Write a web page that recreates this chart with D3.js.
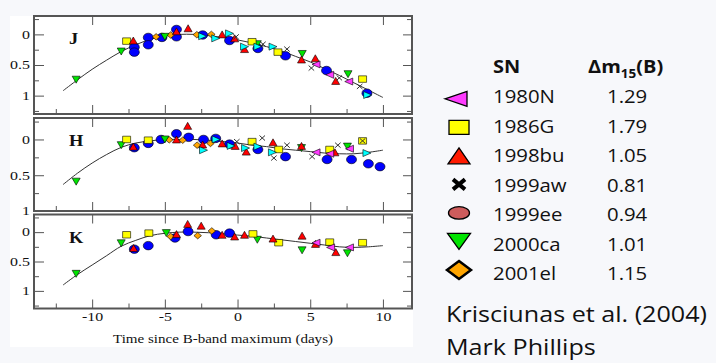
<!DOCTYPE html>
<html>
<head>
<meta charset="utf-8">
<script src="https://cdn.jsdelivr.net/npm/d3@7"></script>
<style>
  body { margin: 0; background: #f7f8fb; }
  svg { display: block; }
</style>
</head>
<body>
<div id="chart"></div>
<script>
const WIDTH = 716;
const HEIGHT = 363;

// photometry: [days since B max, mag relative to peak]
const sn1980N = {
    J: [[5.4, 0.49], [6.34, 0.66], [7.65, 0.77]],
    H: [[5.4, 0.18], [6.34, 0.2], [7.7, 0.13]],
    K: [[5.4, 0.18], [6.4, 0.26], [7.7, 0.26]]
};
const sn1986G = {
    J: [[-7.63, 0.11], [1.0, 0.12], [2.78, 0.29], [8.6, 0.73]],
    H: [[-7.63, 0.0], [-6.14, 0.01], [1.0, 0.03], [2.83, 0.14], [6.34, 0.14], [8.6, 0.02]],
    K: [[-7.63, 0.045], [-6.1, 0.017], [1.06, 0.03], [2.83, 0.18], [6.34, 0.17], [8.6, 0.18]]
};
const sn1998bu = {
    J: [[-7.17, 0.1], [-4.2, -0.05], [-3.4, -0.1], [-1.06, 0.0], [-0.2, 0.065], [0.48, 0.24],
        [4.4, 0.41], [5.35, 0.39], [6.75, 0.76]],
    H: [[-7.17, 0.1], [-4.2, 0.0], [-3.43, -0.19], [-2.4, 0.07], [-1.06, 0.055], [-0.16, 0.09],
        [0.6, 0.17], [2.44, 0.04], [4.4, 0.09], [6.7, 0.18]],
    K: [[-7.15, 0.27], [-4.2, 0.034], [-3.43, -0.14], [-2.5, -0.11], [-1.06, 0.045], [-0.2, 0.074],
        [0.48, 0.045], [2.44, 0.11], [4.44, 0.06], [5.36, 0.2], [6.76, 0.34]]
};
const sn1999aw = {
    J: [[-0.1, 0.04], [1.75, 0.16], [3.4, 0.24], [5.08, 0.55], [7.0, 0.71], [8.4, 0.85]],
    H: [[-0.05, 0.03], [1.7, -0.02], [2.5, 0.26], [3.4, 0.08], [5.13, 0.24], [6.9, 0.08], [8.6, 0.02]],
    K: []
};
const snBlue = {
    J: [[-7.1, 0.21], [-7.1, 0.29], [-6.14, 0.05], [-6.14, 0.17], [-5.2, 0.05], [-4.2, -0.08],
        [-4.2, 0.04], [-2.4, 0.01], [-0.55, 0.1], [1.4, 0.23], [3.3, 0.35], [6.12, 0.59], [8.9, 0.96]],
    H: [[-7.1, 0.115], [-6.14, 0.055], [-5.26, 0.0], [-4.2, -0.08], [-3.36, -0.03], [-2.34, 0.0],
        [-1.5, -0.015], [-0.55, 0.065], [1.4, 0.14], [3.3, 0.24], [6.16, 0.28], [7.84, 0.28],
        [9.0, 0.34], [9.8, 0.38]],
    K: [[-7.1, 0.29], [-6.14, 0.23], [-4.3, 0.1], [-3.4, -0.01], [-1.47, 0.045], [-0.55, 0.017]]
};
const sn2000ca = {
    J: [[-11.1, 0.74], [-8.0, 0.28], [-5.0, 0.04], [1.36, 0.16], [4.45, 0.32], [7.6, 0.65]],
    H: [[-11.1, 0.59], [-8.0, 0.08], [-5.0, 0.0], [4.4, 0.12], [7.56, 0.1]],
    K: [[-11.1, 0.71], [-8.0, 0.19], [-4.9, 0.017], [1.36, 0.13], [4.44, 0.31], [7.56, 0.36]]
};
const sn2001el = {
    J: [[-5.6, 0.04], [-4.6, 0.01], [-2.8, 0.005], [-1.8, 0.0]],
    H: [[-4.7, 0.005], [-3.77, 0.01], [-2.78, 0.08], [-1.86, 0.055]],
    K: [[-4.6, 0.074], [-2.74, 0.06], [-1.77, -0.02]]
};
const snCyan = {
    J: [[-2.4, 0.03], [-1.5, 0.065], [-0.55, -0.016], [0.48, 0.2], [1.4, 0.2], [2.44, 0.2], [8.95, 0.99]],
    H: [[-2.34, 0.15], [-1.47, 0.0], [-0.44, 0.09], [0.55, 0.12], [1.4, 0.1], [2.4, 0.18], [8.9, 0.19]],
    K: []
};

// template curves
const curveJ = [[-12, 0.92], [-11, 0.74], [-10, 0.57], [-9, 0.42], [-8, 0.28], [-7, 0.17], [-6, 0.08],
    [-5, 0.02], [-4, 0.0], [-3, 0.0], [-2, 0.02], [-1, 0.05], [0, 0.09], [1, 0.14], [2, 0.2],
    [3, 0.27], [4, 0.36], [5, 0.45], [6, 0.56], [7, 0.67], [8, 0.79], [9, 0.91], [10, 1.03]];
const curveH = [[-12, 0.63], [-11, 0.47], [-10, 0.33], [-9, 0.21], [-8, 0.11], [-7, 0.05], [-6, 0.02],
    [-5, 0.0], [-4, 0.0], [-3, 0.0], [-2, 0.01], [-1, 0.03], [0, 0.05], [1, 0.08], [2, 0.1],
    [3, 0.13], [4, 0.15], [5, 0.17], [6, 0.19], [7, 0.2], [8, 0.2], [9, 0.18], [10, 0.15]];
const curveK = [[-12, 0.9], [-11, 0.72], [-10, 0.56], [-9, 0.4], [-8, 0.24], [-7, 0.14], [-6, 0.06],
    [-5, 0.02], [-4, 0.0], [-3, 0.0], [-2, 0.01], [-1, 0.03], [0, 0.05], [1, 0.07], [2, 0.1],
    [3, 0.13], [4, 0.16], [5, 0.19], [6, 0.22], [7, 0.25], [8, 0.26], [9, 0.25], [10, 0.23]];

const xMajor = [-10, -5, 0, 5, 10];
const xMinor = [-12.5, -7.5, -2.5, 2.5, 7.5];
const yMajor = [0, 0.5, 1];
const yMinorJK = [-0.25, 0.25, 0.75, 1.25];
const yMinorH = [-0.25, 0.25, 0.75];

const legendNames = ['1980N', '1986G', '1998bu', '1999aw', '1999ee', '2000ca', '2001el'];
const legendDm15 = ['1.29', '1.79', '1.05', '0.81', '0.94', '1.01', '1.15'];

// marker styles for plot series
const series = [
    { data: snBlue, shape: 'circle', fill: '#0000ff' },
    { data: sn2001el, shape: 'diamond', fill: '#ffa500' },
    { data: sn2000ca, shape: 'down', fill: '#00e400' },
    { data: sn1986G, shape: 'square', fill: '#ffff00' },
    { data: sn1998bu, shape: 'up', fill: '#ff0000' },
    { data: snCyan, shape: 'right', fill: '#00ffff' },
    { data: sn1980N, shape: 'left', fill: '#ff3cff' },
    { data: sn1999aw, shape: 'cross', fill: 'none' }
];
const plotSize = {
    circle: [10, 8.5], square: [8, 6.5], up: [8, 7], down: [8, 7], left: [8, 7],
    right: [8, 7], diamond: [7.5, 6.5], cross: [5.5, 5]
};

// legend marker styles, same order as legendNames
const legendShapes = ['left', 'square', 'up', 'cross', 'circle', 'down', 'diamond'];
const legendFills = ['#ff3cff', '#ffff00', '#ff1a00', 'none', '#cd5c5c', '#00e400', '#ffa500'];
const legendSize = [[22, 15], [20, 14], [22, 16], [12, 10], [21, 12.5], [23, 16], [24, 18]];

function shapePath(shape, w, h) {
    const a = w / 2, b = h / 2;
    switch (shape) {
        case 'up': return `M0,${-b}L${a},${b}L${-a},${b}Z`;
        case 'down': return `M0,${b}L${a},${-b}L${-a},${-b}Z`;
        case 'left': return `M${-a},0L${a},${-b}L${a},${b}Z`;
        case 'right': return `M${a},0L${-a},${-b}L${-a},${b}Z`;
        case 'square': return `M${-a},${-b}H${a}V${b}H${-a}Z`;
        case 'diamond': return `M0,${-b}L${a},0L0,${b}L${-a},0Z`;
        case 'cross': return `M${-a},${-b}L${a},${b}M${a},${-b}L${-a},${b}`;
        default: return `M${-a},0A${a},${b} 0 1,0 ${a},0A${a},${b} 0 1,0 ${-a},0Z`;
    }
}

const svg = d3.select('#chart')
    .append('svg')
    .attr('width', WIDTH)
    .attr('height', HEIGHT);

svg.append('rect').attr('width', WIDTH).attr('height', HEIGHT).attr('fill', '#f7f8fb');
svg.append('rect').attr('x', 10).attr('y', 16).attr('width', 403).attr('height', 331).attr('fill', '#fff');

const x = d3.scaleLinear().domain([-14, 12]).range([34, 412]);

const panels = [
    { band: 'J', top: 16, bottom: 114, domain: [-0.3, 1.3], curve: curveJ, minor: yMinorJK },
    { band: 'H', top: 118, bottom: 211, domain: [-0.3, 1.0], curve: curveH, minor: yMinorH },
    { band: 'K', top: 214.5, bottom: 308.5, domain: [-0.3, 1.3], curve: curveK, minor: yMinorJK }
];

const serif = 'Liberation Serif, DejaVu Serif, serif';

function styleAxis(sel) {
    sel.select('.domain').remove();
    sel.selectAll('line').attr('stroke', '#555').attr('stroke-width', 1);
    sel.selectAll('text')
        .attr('font-family', serif)
        .attr('font-size', 12)
        .attr('fill', '#111')
        .attr('transform', 'scale(1.33,1)');
}

panels.forEach((p, pi) => {
    const y = d3.scaleLinear().domain(p.domain).range([p.top, p.bottom]);
    const g = svg.append('g');
    const last = pi === panels.length - 1;

    // left axis
    g.append('g')
        .attr('transform', `translate(${x.range()[0]},0)`)
        .call(d3.axisLeft(y).tickValues(yMajor).tickSizeInner(-10).tickSizeOuter(0)
            .tickPadding(3).tickFormat(d => String(d)))
        .call(styleAxis);
    g.append('g')
        .attr('transform', `translate(${x.range()[0]},0)`)
        .call(d3.axisLeft(y).tickValues(p.minor).tickSizeInner(-5).tickSizeOuter(0).tickFormat(''))
        .call(styleAxis);

    // right axis
    g.append('g')
        .attr('transform', `translate(${x.range()[1]},0)`)
        .call(d3.axisRight(y).tickValues(yMajor).tickSizeInner(-9).tickSizeOuter(0).tickFormat(''))
        .call(styleAxis);
    g.append('g')
        .attr('transform', `translate(${x.range()[1]},0)`)
        .call(d3.axisRight(y).tickValues(p.minor).tickSizeInner(-5).tickSizeOuter(0).tickFormat(''))
        .call(styleAxis);

    // top axis
    g.append('g')
        .attr('transform', `translate(0,${p.top})`)
        .call(d3.axisTop(x).tickValues(xMajor).tickSizeInner(-9).tickSizeOuter(0).tickFormat(''))
        .call(styleAxis);

    // bottom axis
    g.append('g')
        .attr('transform', `translate(0,${p.bottom})`)
        .call(d3.axisBottom(x).tickValues(xMajor).tickSizeInner(-9).tickSizeOuter(0)
            .tickPadding(4).tickFormat(last ? (d => String(d)) : ''))
        .call(styleAxis);
    g.append('g')
        .attr('transform', `translate(0,${p.bottom})`)
        .call(d3.axisBottom(x).tickValues(xMinor).tickSizeInner(-5).tickSizeOuter(0).tickFormat(''))
        .call(styleAxis);

    // template curve
    const line = d3.line()
        .x(d => x(d[0]))
        .y(d => y(d[1]))
        .curve(d3.curveCatmullRom);
    g.append('path')
        .attr('d', line(p.curve))
        .attr('fill', 'none')
        .attr('stroke', '#333')
        .attr('stroke-width', 1);

    // data points
    series.forEach(s => {
        const [w, h] = plotSize[s.shape];
        g.selectAll(null)
            .data(s.data[p.band])
            .enter()
            .append('path')
            .attr('transform', d => `translate(${x(d[0])},${y(d[1])})`)
            .attr('d', shapePath(s.shape, w, h))
            .attr('fill', s.fill)
            .attr('stroke', s.shape === 'cross' ? '#333' : '#000')
            .attr('stroke-width', s.shape === 'cross' ? 1 : 0.6);
    });

    // frame
    g.append('rect')
        .attr('x', x.range()[0])
        .attr('y', p.top)
        .attr('width', x.range()[1] - x.range()[0])
        .attr('height', p.bottom - p.top)
        .attr('fill', 'none')
        .attr('stroke', '#555')
        .attr('stroke-width', 2);

    // band label
    g.append('text')
        .attr('transform', `translate(69,${p.top + 28.2}) scale(1.15,1)`)
        .attr('font-family', serif)
        .attr('font-weight', 'bold')
        .attr('font-size', 16)
        .attr('fill', '#111')
        .text(p.band);
});

svg.append('text')
    .attr('x', 223)
    .attr('y', 343)
    .attr('text-anchor', 'middle')
    .attr('font-family', serif)
    .attr('font-size', 12.5)
    .attr('textLength', 220)
    .attr('lengthAdjust', 'spacingAndGlyphs')
    .attr('fill', '#111')
    .text('Time since B-band maximum (days)');

// legend
const sans = 'Open Sans, Noto Sans, sans-serif';
const rowBase = d3.scalePoint().domain(legendNames).range([103.3, 280]);
const rowMark = d3.scalePoint().domain(legendNames).range([98.8, 270]);

svg.append('text')
    .attr('transform', 'translate(493,73.3) scale(1.08,1)')
    .attr('font-family', sans).attr('font-size', 18.5).attr('font-weight', 'bold').attr('fill', '#111')
    .text('SN');

const head = svg.append('text')
    .attr('transform', 'translate(588,73.3) scale(1.08,1)')
    .attr('font-family', sans).attr('font-size', 18.5).attr('font-weight', 'bold').attr('fill', '#111');
head.append('tspan').text('Δm');
head.append('tspan').attr('font-size', 12.5).attr('dy', 5).text('15');
head.append('tspan').attr('dy', -5).text('(B)');

legendNames.forEach((name, i) => {
    const [w, h] = legendSize[i];
    const cross = legendShapes[i] === 'cross';
    svg.append('path')
        .attr('transform', `translate(${legendShapes[i] === 'left' ? 456 : 459},${rowMark(name)})`)
        .attr('d', shapePath(legendShapes[i], w, h))
        .attr('fill', legendFills[i])
        .attr('stroke', '#000')
        .attr('stroke-width', cross ? 4 : (legendShapes[i] === 'diamond' ? 2.5 : 1.3))
        .attr('stroke-linejoin', 'miter');

    svg.append('text')
        .attr('transform', `translate(493,${rowBase(name)}) scale(1.1,1)`)
        .attr('font-family', sans).attr('font-size', 18.5).attr('fill', '#111')
        .text(name);

    svg.append('text')
        .attr('transform', `translate(607,${rowBase(name)}) scale(1.1,1)`)
        .attr('font-family', sans).attr('font-size', 18.5).attr('fill', '#111')
        .text(legendDm15[i]);
});

svg.append('text')
    .attr('transform', 'translate(446,321.7) scale(1.17,1)')
    .attr('font-family', sans).attr('font-size', 21.5).attr('fill', '#111')
    .text('Krisciunas et al. (2004)');

svg.append('text')
    .attr('transform', 'translate(446,355) scale(1.17,1)')
    .attr('font-family', sans).attr('font-size', 21.5).attr('fill', '#111')
    .text('Mark Phillips');
</script>
</body>
</html>
